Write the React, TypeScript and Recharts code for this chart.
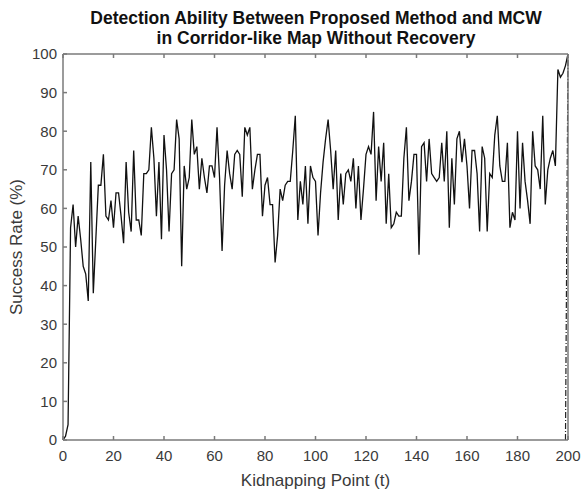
import { LineChart, Line, XAxis, YAxis, Label } from 'recharts'

// kidnapping point t = 0..200
const proposed = [
  0, 1, 4, 55, 61, 50, 58, 52, 45, 43,
  36, 72, 38, 52, 66, 66, 74, 58, 57, 62,
  55, 64, 64, 58, 51, 72, 59, 54, 75, 57,
  57, 53, 69, 69, 70, 81, 73, 58, 72, 52,
  79, 70, 54, 69, 70, 83, 78, 45, 71, 65,
  68, 83, 74, 76, 65, 73, 68, 64, 71, 71,
  68, 81, 68, 49, 66, 75, 69, 65, 74, 75,
  74, 63, 81, 79, 81, 65, 70, 74, 74, 58,
  66, 68, 61, 61, 46, 53, 65, 62, 66, 67,
  67, 75, 84, 57, 67, 61, 71, 56, 71, 68,
  67, 53, 64, 72, 78, 83, 75, 65, 75, 57,
  69, 61, 69, 70, 67, 73, 60, 71, 57, 65,
  74, 76, 74, 85, 62, 76, 67, 77, 56, 69,
  55, 56, 59, 58, 58, 73, 81, 62, 67, 74,
  74, 48, 76, 77, 67, 78, 69, 68, 67, 68,
  77, 67, 80, 55, 73, 61, 78, 80, 72, 78,
  71, 60, 75, 75, 69, 54, 76, 73, 54, 69,
  68, 79, 84, 71, 67, 67, 77, 55, 59, 57,
  80, 60, 77, 67, 62, 56, 80, 71, 70, 65,
  84, 61, 70, 73, 75, 71, 96, 94, 95, 97,
  100,
]

// MCW: sits on 0 (hidden by the axis) and only climbs at the last point
const mcwT = [199, 200]
const mcwV = [0, 100]

const xTicks = [0, 20, 40, 60, 80, 100, 120, 140, 160, 180, 200]
const yTicks = [0, 10, 20, 30, 40, 50, 60, 70, 80, 90, 100]

const data = proposed.map((v, t) => {
  const i = mcwT.indexOf(t)
  return { t, proposed: v, mcw: i >= 0 ? mcwV[i] : null }
})

const font = 'Liberation Sans, Arial, sans-serif'
const axisColor = '#7a7a7a'
const tickStyle = { fill: '#3a3a3a', fontSize: 15, fontFamily: font }

export default function App() {
  return (
    <div style={{ position: 'absolute', left: 0, top: 0, width: 582, height: 490, background: '#fff' }}>
      <div
        style={{
          position: 'absolute',
          left: 16,
          width: 600,
          top: 8,
          textAlign: 'center',
          fontFamily: font,
          fontWeight: 'bold',
          fontSize: 17.5,
          lineHeight: '20px',
          color: '#111',
        }}
      >
        Detection Ability Between Proposed Method and MCW
        <br />
        in Corridor-like Map Without Recovery
      </div>
      <LineChart
        width={582}
        height={490}
        data={data}
        margin={{ top: 53, right: 13, left: 0, bottom: 0 }}
      >
        <XAxis
          dataKey="t"
          type="number"
          domain={[0, 200]}
          ticks={xTicks}
          height={50}
          stroke={axisColor}
          strokeWidth={1.5}
          tickSize={-4}
          tickMargin={14}
          tick={tickStyle}
          interval={0}
        >
          <Label
            value="Kidnapping Point (t)"
            position="insideBottom"
            offset={4}
            style={{ fill: '#3a3a3a', fontSize: 17, fontFamily: font }}
          />
        </XAxis>
        <XAxis
          xAxisId="top"
          orientation="top"
          dataKey="t"
          type="number"
          domain={[0, 200]}
          ticks={xTicks}
          height={1}
          stroke={axisColor}
          strokeWidth={1.5}
          tickSize={-4}
          tickFormatter={() => ''}
        />
        <YAxis
          type="number"
          domain={[0, 100]}
          ticks={yTicks}
          width={63}
          stroke={axisColor}
          strokeWidth={1.5}
          tickSize={-4}
          tickMargin={10}
          tick={tickStyle}
          interval={0}
        >
          <Label
            value="Success Rate (%)"
            angle={-90}
            position="insideLeft"
            offset={16}
            style={{ fill: '#3a3a3a', fontSize: 17, fontFamily: font, textAnchor: 'middle' }}
          />
        </YAxis>
        <YAxis
          yAxisId="right"
          orientation="right"
          type="number"
          domain={[0, 100]}
          ticks={yTicks}
          width={1}
          stroke={axisColor}
          strokeWidth={1.5}
          tickSize={-4}
          tickFormatter={() => ''}
        />
        <Line
          dataKey="mcw"
          stroke="#222"
          strokeWidth={1.2}
          strokeDasharray="6 2 1 2"
          dot={false}
          connectNulls
          isAnimationActive={false}
        />
        <Line
          dataKey="proposed"
          stroke="#111"
          strokeWidth={1.3}
          dot={false}
          isAnimationActive={false}
        />
      </LineChart>
    </div>
  )
}
